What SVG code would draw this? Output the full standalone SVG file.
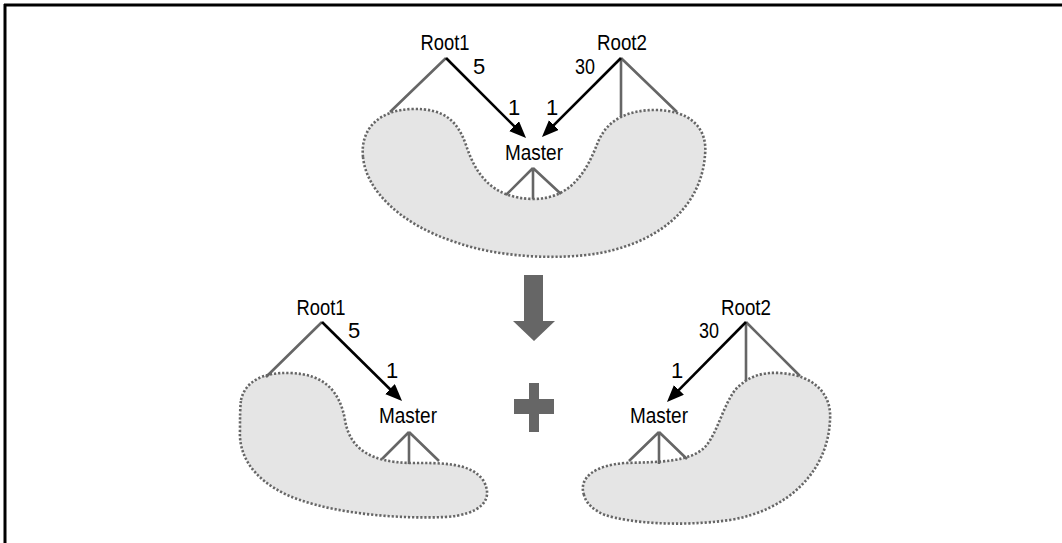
<svg xmlns="http://www.w3.org/2000/svg" width="1062" height="543" viewBox="0 0 1062 543">
<style>
.blob{fill:#e5e5e5;stroke:#666;stroke-width:2.6;stroke-dasharray:2.2 1.9}
.gl{stroke:#666;stroke-width:2.6;fill:none}
.arr{stroke:#000;stroke-width:2.6;fill:none;marker-end:url(#ah)}
text{font-family:"Liberation Sans",Arial,sans-serif;font-size:22px;fill:#000;text-anchor:middle}
.big{fill:#666}
</style>
<defs>
<marker id="ah" markerUnits="userSpaceOnUse" markerWidth="19" markerHeight="15" refX="13" refY="7" orient="auto">
<path d="M0,0 L17,7 L0,14 Z" fill="#000"/>
</marker>
</defs>
<g id="frame"><path d="M4,5 H1062 M5,4 V543" stroke="#000" stroke-width="3" fill="none"/></g>
<g id="blob-top"><path class="blob" d="M363,157 C360,128 380,110 412,109 C445,108 458,122 466,145 C476,175 492,198 533,199 C572,199 587,170 598,142 C608,118 630,110 655,110 C690,110 708,128 705,155 C702,200 668,240 600,253 C560,260 500,258 455,242 C400,224 366,190 363,157 Z"/></g>
<g id="blob-left"><path class="blob" d="M241,400 C245,382 262,372 290,373 C325,374 340,392 345,420 C350,450 372,462 410,463 C440,463 470,462 483,480 C495,500 480,515 445,517 C400,519 340,514 300,500 C262,487 238,462 240,430 C240,418 240,408 241,400 Z"/></g>
<g id="blob-right"><path class="blob" d="M584,495 C578,478 595,465 625,463 C660,462 690,462 705,447 C718,432 722,408 735,390 C748,376 762,372 780,373 C815,375 832,395 830,420 C828,470 790,510 730,520 C680,527 630,523 605,515 C593,510 586,503 584,495 Z"/></g>
<g id="connectors">
<path class="gl" d="M446,58 L390,112 M621,58 V117 M621,58 L677,112 M533,168 L506,195 M533,168 V199 M533,168 L561,194"/>
<path class="gl" d="M322,322 L266,377 M409,432 L382,459 M409,432 V464 M409,432 L439,461"/>
<path class="gl" d="M746,322 V381 M746,322 L800,376 M659,432 L629,461 M659,432 V464 M659,432 L687,459"/>
<line class="arr" x1="446" y1="58" x2="523.2" y2="135.2"/>
<line class="arr" x1="621" y1="58" x2="544.8" y2="134.2"/>
<line class="arr" x1="322" y1="322" x2="399.2" y2="398.2"/>
<line class="arr" x1="746" y1="322" x2="669.8" y2="399.2"/>
</g>
<g id="transform-arrow"><path class="big" d="M524,275 H543 V321 H555 L534,341 L513,321 H524 Z"/></g>
<g id="plus"><path class="big" d="M529,383 H539 V399 H554 V414 H539 V432 H529 V414 H514 V399 H529 Z"/></g>
<g id="top-root1"><text x="445" y="50" textLength="49" lengthAdjust="spacingAndGlyphs">Root1</text></g>
<g id="top-root2"><text x="622" y="50" textLength="50" lengthAdjust="spacingAndGlyphs">Root2</text></g>
<g id="top-master"><text x="534" y="160" textLength="58" lengthAdjust="spacingAndGlyphs">Master</text></g>
<g id="top-labels">
<text x="479" y="74">5</text>
<text x="585" y="74" textLength="20" lengthAdjust="spacingAndGlyphs">30</text>
<text x="514" y="115">1</text>
<text x="552" y="115">1</text>
</g>
<g id="left-root1"><text x="321" y="315" textLength="49" lengthAdjust="spacingAndGlyphs">Root1</text></g>
<g id="left-master"><text x="408" y="423" textLength="58" lengthAdjust="spacingAndGlyphs">Master</text></g>
<g id="left-labels">
<text x="354" y="338">5</text>
<text x="392" y="378">1</text>
</g>
<g id="right-root2"><text x="746" y="315" textLength="50" lengthAdjust="spacingAndGlyphs">Root2</text></g>
<g id="right-master"><text x="659" y="423" textLength="58" lengthAdjust="spacingAndGlyphs">Master</text></g>
<g id="right-labels">
<text x="709" y="338" textLength="20" lengthAdjust="spacingAndGlyphs">30</text>
<text x="677" y="378">1</text>
</g>
</svg>
